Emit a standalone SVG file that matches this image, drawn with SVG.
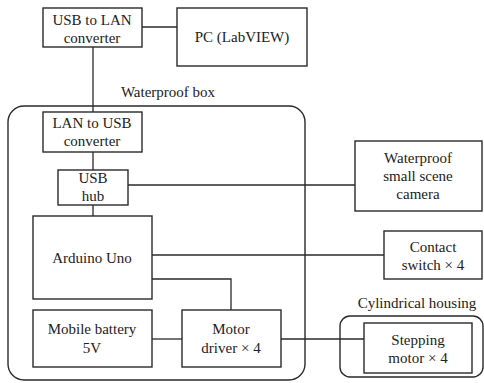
<svg xmlns="http://www.w3.org/2000/svg" width="484" height="383" viewBox="0 0 484 383">
  <style>
    .box { fill: #fff; stroke: #2a2a2a; stroke-width: 1.4; }
    .frame { fill: none; stroke: #2a2a2a; stroke-width: 1.4; }
    .wire { fill: none; stroke: #2a2a2a; stroke-width: 1.3; }
    text { font-family: "Liberation Serif", "Times New Roman", serif; font-size: 15px; fill: #222; text-anchor: middle; }
  </style>
  <rect width="484" height="383" fill="#fff"/>

  <!-- enclosures -->
  <g id="waterproof-box">
    <rect class="frame" x="8" y="106" width="297" height="274" rx="16"/>
    <text x="168" y="97">Waterproof box</text>
  </g>
  <g id="cylindrical-housing">
    <rect class="frame" x="340" y="316" width="143" height="61" rx="10"/>
    <text x="417" y="308">Cylindrical housing</text>
  </g>

  <!-- connectors -->
  <g id="connectors">
    <line class="wire" x1="142" y1="27" x2="177" y2="27"/>
    <line class="wire" x1="93" y1="47" x2="93" y2="112"/>
    <line class="wire" x1="93" y1="152" x2="93" y2="170"/>
    <line class="wire" x1="93" y1="205" x2="93" y2="216"/>
    <line class="wire" x1="128" y1="185" x2="355" y2="185"/>
    <line class="wire" x1="152" y1="255" x2="384" y2="255"/>
    <polyline class="wire" points="152,279 231,279 231,310"/>
    <line class="wire" x1="152" y1="339" x2="182" y2="339"/>
    <line class="wire" x1="281" y1="339" x2="364" y2="339"/>
  </g>

  <!-- nodes -->
  <g id="usb-to-lan">
    <rect class="box" x="43" y="8" width="99" height="39"/>
    <text x="92" y="25">USB to LAN</text>
    <text x="92" y="43">converter</text>
  </g>
  <g id="pc">
    <rect class="box" x="177" y="8" width="130" height="58"/>
    <text x="242" y="42">PC (LabVIEW)</text>
  </g>
  <g id="lan-to-usb">
    <rect class="box" x="43" y="112" width="99" height="40"/>
    <text x="92" y="128">LAN to USB</text>
    <text x="92" y="146">converter</text>
  </g>
  <g id="usb-hub">
    <rect class="box" x="58" y="170" width="70" height="35"/>
    <text x="93" y="183">USB</text>
    <text x="93" y="201">hub</text>
  </g>
  <g id="camera">
    <rect class="box" x="355" y="141" width="127" height="70"/>
    <text x="418" y="163">Waterproof</text>
    <text x="418" y="181">small scene</text>
    <text x="418" y="199">camera</text>
  </g>
  <g id="arduino">
    <rect class="box" x="33" y="216" width="119" height="83"/>
    <text x="92" y="263">Arduino Uno</text>
  </g>
  <g id="contact-switch">
    <rect class="box" x="384" y="231" width="98" height="48"/>
    <text x="433" y="252">Contact</text>
    <text x="433" y="270">switch × 4</text>
  </g>
  <g id="battery">
    <rect class="box" x="33" y="310" width="119" height="57"/>
    <text x="92" y="334">Mobile battery</text>
    <text x="92" y="353">5V</text>
  </g>
  <g id="motor-driver">
    <rect class="box" x="182" y="310" width="99" height="57"/>
    <text x="231" y="334">Motor</text>
    <text x="231" y="353">driver × 4</text>
  </g>
  <g id="stepping-motor">
    <rect class="box" x="364" y="323" width="108" height="50"/>
    <text x="418" y="345">Stepping</text>
    <text x="418" y="363">motor × 4</text>
  </g>
</svg>
